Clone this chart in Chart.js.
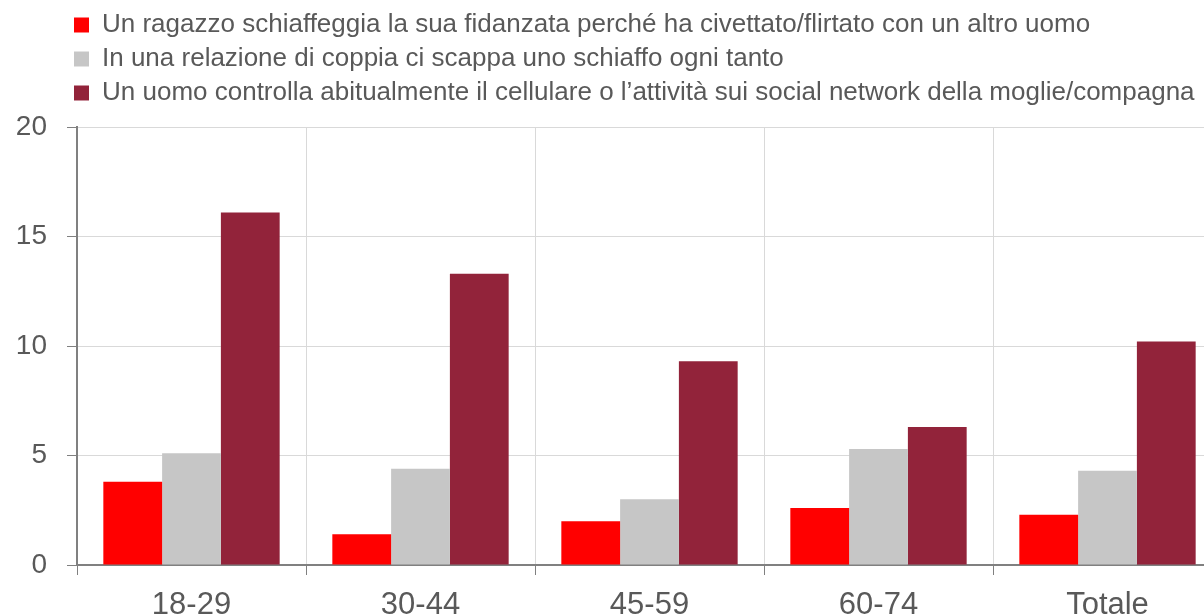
<!DOCTYPE html>
<html>
<head>
<meta charset="utf-8">
<script src="https://cdn.jsdelivr.net/npm/chart.js@4"></script>
<style>
  html, body { margin: 0; padding: 0; background: #fff; overflow: hidden; }
  #wrap { width: 1204px; height: 614px; overflow: hidden; position: relative; }
  #box { position: absolute; left: 0; top: 0; width: 1232px; height: 640px; }
</style>
</head>
<body>
<div id="wrap"><div id="box"><canvas id="c"></canvas></div></div>
<script>
const categories = ["18-29", "30-44", "45-59", "60-74", "Totale"];
const seriesNames = [
  "Un ragazzo schiaffeggia la sua fidanzata perché ha civettato/flirtato con un altro uomo",
  "In una relazione di coppia ci scappa uno schiaffo ogni tanto",
  "Un uomo controlla abitualmente il cellulare o l’attività sui social network della moglie/compagna"
];
const slapFlirt = [3.8, 1.4, 2.0, 2.6, 2.3];
const slapSometimes = [5.1, 4.4, 3.0, 5.3, 4.3];
const phoneControl = [16.1, 13.3, 9.3, 6.3, 10.2];
const yTicks = [0, 5, 10, 15, 20];

const colors = ["#FF0000", "#C6C6C6", "#92233A"];
const regular = "'Liberation Sans', Arial, sans-serif";

const legendTweak = {
  id: 'legendTweak',
  beforeLayout(chart) {
    const lg = chart.legend;
    if (lg && !lg._patched) {
      const f = lg.fit.bind(lg);
      lg.fit = function () { f(); this.height += 11; };
      lg._patched = true;
    }
  },
  afterLayout(chart) { chart.legend.left = 66; }
};

new Chart(document.getElementById('c'), {
  type: 'bar',
  data: {
    labels: categories,
    datasets: [slapFlirt, slapSometimes, phoneControl].map((d, i) => ({
      label: seriesNames[i],
      data: d,
      backgroundColor: colors[i],
      borderWidth: 0,
      categoryPercentage: 0.77,
      barPercentage: 1.0
    }))
  },
  options: {
    responsive: true,
    maintainAspectRatio: false,
    animation: false,
    layout: { padding: { top: 4, right: 10, left: 0, bottom: 0 } },
    plugins: {
      tooltip: { enabled: false },
      legend: {
        position: 'top',
        align: 'start',
        labels: {
          boxWidth: 15,
          boxHeight: 15,
          padding: 8,
          color: '#595959',
          font: { family: regular, size: 26 }
        }
      }
    },
    scales: {
      x: {
        grid: { display: true, offset: true, color: '#D9D9D9', lineWidth: 1, tickColor: '#808080', tickLength: 10, drawOnChartArea: true },
        border: { display: true, color: '#808080', width: 2 },
        ticks: { color: '#595959', font: { family: regular, size: 31 }, padding: 12, maxRotation: 0 },
        afterFit(scale) { scale.height = 75; }
      },
      y: {
        min: 0, max: 20,
        afterBuildTicks(scale) { scale.ticks = yTicks.map(v => ({ value: v })); },
        grid: { color: '#D9D9D9', lineWidth: 1, tickColor: '#808080', tickLength: 10 },
        border: { display: true, color: '#808080', width: 2 },
        ticks: { color: '#595959', font: { family: regular, size: 28 }, padding: 20 },
        afterFit(scale) { scale.width = 77; }
      }
    }
  },
  plugins: [legendTweak]
});
</script>
</body>
</html>
